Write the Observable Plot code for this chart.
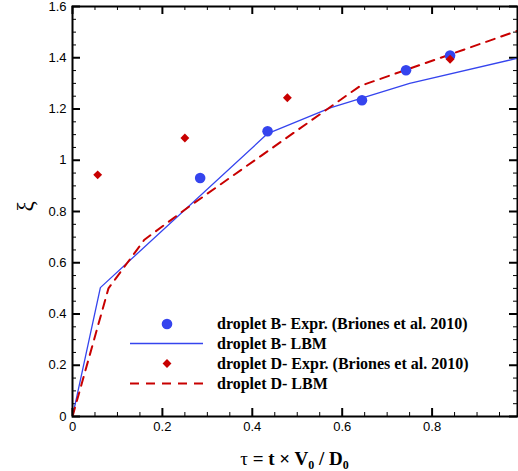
<!DOCTYPE html>
<html><head><meta charset="utf-8">
<script src="https://cdn.jsdelivr.net/npm/d3@7"></script>
<script src="https://cdn.jsdelivr.net/npm/@observablehq/plot@0.6"></script>
<style>
body{margin:0;background:#fff}
#wrap{position:relative;width:518px;height:471px}
#legend{position:absolute;left:0;top:0;pointer-events:none}
</style>
</head><body><div id="wrap"></div>
<script>
// droplet B — experiment (Briones et al. 2010)
const bExpX = [0.284, 0.434, 0.644, 0.742, 0.840];
const bExpY = [0.931, 1.113, 1.234, 1.351, 1.409];
// droplet D — experiment (Briones et al. 2010)
const dExpX = [0.056, 0.250, 0.478, 0.840];
const dExpY = [0.943, 1.087, 1.244, 1.394];
// droplet B — LBM
const bLbmX = [0, 0.062, 0.434, 0.575, 0.75, 0.99];
const bLbmY = [0, 0.503, 1.104, 1.205, 1.30, 1.398];
// droplet D — LBM
const dLbmX = [0, 0.08, 0.16, 0.26, 0.64, 0.99];
const dLbmY = [0, 0.50, 0.69, 0.82, 1.29, 1.505];

const xMajor = [0, 0.2, 0.4, 0.6, 0.8];
const xMinor = [0.05, 0.1, 0.15, 0.25, 0.3, 0.35, 0.45, 0.5, 0.55, 0.65, 0.7, 0.75, 0.85, 0.9, 0.95];
const yMajor = [0, 0.2, 0.4, 0.6, 0.8, 1.0, 1.2, 1.4, 1.6];
const yMinor = [0.05, 0.1, 0.15, 0.25, 0.3, 0.35, 0.45, 0.5, 0.55, 0.65, 0.7, 0.75, 0.85, 0.9, 0.95,
                1.05, 1.1, 1.15, 1.25, 1.3, 1.35, 1.45, 1.5, 1.55];

const legendLabels = [
  "droplet B- Expr. (Briones et al. 2010)",
  "droplet B- LBM",
  "droplet D- Expr. (Briones et al. 2010)",
  "droplet D- LBM"
];

const BLUE = "#3544ee";
const RED = "#c80000";

const zip = (xs, ys) => xs.map((x, i) => ({x, y: ys[i]}));
const bExp = zip(bExpX, bExpY), dExp = zip(dExpX, dExpY);
const bLbm = zip(bLbmX, bLbmY), dLbm = zip(dLbmX, dLbmY);
const fmt = d => String(+d.toFixed(1));

const W = 518, H = 471, ML = 72, MR = 1, MT = 6, MB = 55;
const IW = W - ML - MR, IH = H - MT - MB;
const XMAX = 0.99, YMAX = 1.6;
// tick lengths in pixels, converted to data units for rules
const MAJ = 8, MIN = 4;
const dyMaj = YMAX * MAJ / IH, dyMin = YMAX * MIN / IH;
const dxMaj = XMAX * MAJ / IW, dxMin = XMAX * MIN / IW;

// inward ticks on all four sides
const tickMarks = [
  Plot.ruleX(xMajor, {x: d => d, y1: 0, y2: dyMaj, stroke: "black", strokeWidth: 2}),
  Plot.ruleX(xMinor, {x: d => d, y1: 0, y2: dyMin, stroke: "black", strokeWidth: 1}),
  Plot.ruleX(xMajor, {x: d => d, y1: YMAX - dyMaj, y2: YMAX, stroke: "black", strokeWidth: 2}),
  Plot.ruleX(xMinor, {x: d => d, y1: YMAX - dyMin, y2: YMAX, stroke: "black", strokeWidth: 1}),
  Plot.ruleY(yMajor, {y: d => d, x1: 0, x2: dxMaj, stroke: "black", strokeWidth: 2}),
  Plot.ruleY(yMinor, {y: d => d, x1: 0, x2: dxMin, stroke: "black", strokeWidth: 1}),
  Plot.ruleY(yMajor, {y: d => d, x1: XMAX - dxMaj, x2: XMAX, stroke: "black", strokeWidth: 2}),
  Plot.ruleY(yMinor, {y: d => d, x1: XMAX - dxMin, x2: XMAX, stroke: "black", strokeWidth: 1})
];

const plot = Plot.plot({
  width: W, height: H,
  marginLeft: ML, marginRight: MR, marginTop: MT, marginBottom: MB,
  x: {domain: [0, XMAX]},
  y: {domain: [0, YMAX]},
  style: {fontFamily: "'Liberation Sans', Arial, sans-serif", fontSize: "13px", color: "black", background: "white"},
  marks: [
    Plot.axisX(xMajor, {tickSize: 0, tickPadding: 5, tickFormat: fmt, label: null}),
    Plot.axisY(yMajor, {tickSize: 0, tickPadding: 6, tickFormat: fmt, label: null}),
    ...tickMarks,
    Plot.line(bLbm, {x: "x", y: "y", stroke: BLUE, strokeWidth: 1.3, clip: true}),
    Plot.line(dLbm, {x: "x", y: "y", stroke: RED, strokeWidth: 2, strokeDasharray: "9,7", clip: true}),
    Plot.dot(bExp, {x: "x", y: "y", r: 5.3, fill: BLUE, symbol: "circle"}),
    Plot.dot(dExp, {x: "x", y: "y", r: 4, fill: RED, symbol: "diamond2"}),
    Plot.text(["ξ"], {frameAnchor: "left", dx: -47, rotate: -90, fontSize: 23, fontFamily: "'Liberation Serif', serif"}),
    Plot.frame({stroke: "black", strokeWidth: 2})
  ]
});

const wrap = document.getElementById("wrap");
wrap.appendChild(plot);

// x-axis title with subscripts
const xs = plot.scale("x").range, ys = plot.scale("y").range;
const svg = d3.select(plot);
const t = svg.append("text")
  .attr("x", (xs[0] + xs[1]) / 2).attr("y", ys[0] + 49)
  .attr("text-anchor", "middle")
  .attr("font-family", "'Liberation Serif', 'Times New Roman', serif")
  .attr("font-size", 19).attr("font-weight", "bold").attr("fill", "black");
t.append("tspan").attr("font-weight", "normal").text("τ");
t.append("tspan").text(" = t × V");
t.append("tspan").attr("font-size", 12).attr("dy", 4).text("0");
t.append("tspan").attr("dy", -4).text(" / D");
t.append("tspan").attr("font-size", 12).attr("dy", 4).text("0");

// legend overlay
const lg = d3.select(wrap).append("svg").attr("id", "legend").attr("width", W).attr("height", H);
const rowY = [324, 343.5, 363.5, 383.5];
const symX = 167, lineX0 = 130, lineX1 = 203, textX = 217;
legendLabels.forEach((label, i) => {
  const y = rowY[i];
  if (i === 0) lg.append("circle").attr("cx", symX).attr("cy", y).attr("r", 5.3).attr("fill", BLUE);
  if (i === 1) lg.append("line").attr("x1", lineX0).attr("x2", lineX1).attr("y1", y).attr("y2", y).attr("stroke", BLUE).attr("stroke-width", 1.3);
  if (i === 2) lg.append("path").attr("d", d3.symbol(d3.symbolDiamond2, Math.PI * 16)()).attr("transform", `translate(${symX},${y})`).attr("fill", RED);
  if (i === 3) lg.append("line").attr("x1", lineX0).attr("x2", lineX1).attr("y1", y).attr("y2", y).attr("stroke", RED).attr("stroke-width", 2).attr("stroke-dasharray", "9,7");
  lg.append("text").attr("x", textX).attr("y", y + 5)
    .attr("font-family", "'Liberation Serif', 'Times New Roman', serif")
    .attr("font-size", 16).attr("font-weight", "bold").attr("fill", "black").text(label);
});
</script>
</body></html>
